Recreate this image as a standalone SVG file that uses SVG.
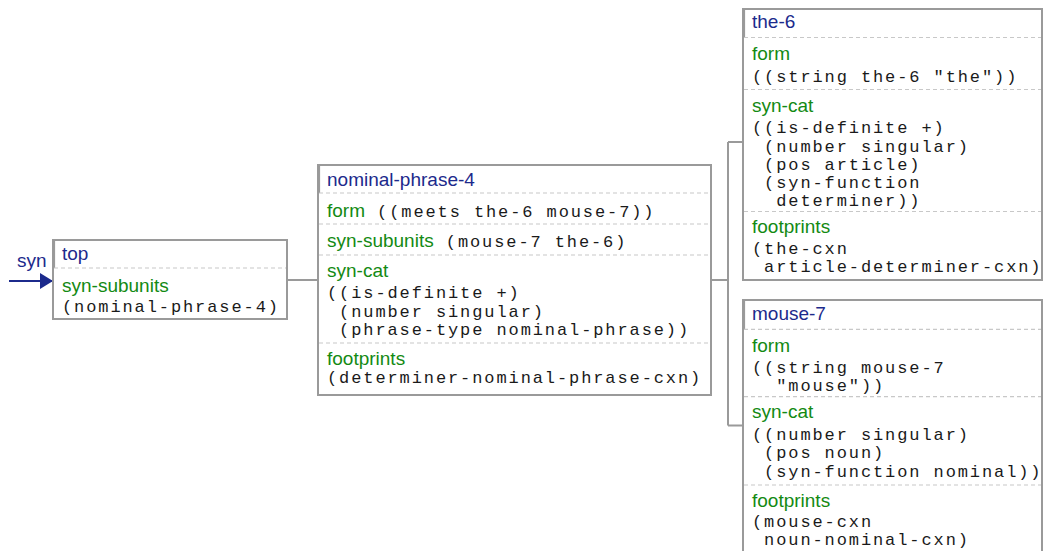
<svg xmlns="http://www.w3.org/2000/svg" width="1043" height="551" viewBox="0 0 1043 551">
<style>
.box{fill:#fff;stroke:#9a9a9a;stroke-width:2}
.hd{stroke:#9a9a9a;stroke-width:1.2}
.dash{stroke:#c8c8c8;stroke-width:1.2;stroke-dasharray:4 3}
.t{font-family:"Liberation Sans",Arial,sans-serif;font-size:19px;fill:#1c2a8c}
.l{font-family:"Liberation Sans",Arial,sans-serif;font-size:19px;fill:#138a13}
.m{font-family:"Liberation Mono","Courier New",monospace;font-size:17px;letter-spacing:1.9px;fill:#1a1a1a;white-space:pre}
.c{fill:none;stroke:#9a9a9a;stroke-width:2}
</style>
<defs>
<marker id="ah" markerWidth="14" markerHeight="16" refX="13" refY="8" orient="auto" markerUnits="userSpaceOnUse">
<path d="M0,0 L13,8 L0,16 Z" fill="#1c2a8c"/>
</marker>
</defs>
<g id="connectors">
<text class="t" x="17" y="267">syn</text>
<line x1="9" y1="281" x2="53" y2="281" stroke="#1c2a8c" stroke-width="2" marker-end="url(#ah)"/>
<path class="c" d="M287,280 H318"/>
<path class="c" d="M711,280 H728 M728,142 V425.5 M728,142 H743 M728,425.5 H743"/>
</g>
<g id="top">
<rect class="box" x="53" y="240" width="234" height="79"/>
<line class="hd" x1="54.5" y1="240" x2="54.5" y2="268"/>
<line class="dash" x1="54" y1="268" x2="286" y2="268"/>
<text class="t" x="62" y="260">top</text>
<text class="l" x="62" y="292">syn-subunits</text>
<text class="m" x="62" y="312">(nominal-phrase-4)</text>
</g>
<g id="nominal-phrase-4">
<rect class="box" x="318" y="165" width="393" height="230"/>
<line class="hd" x1="319.5" y1="165" x2="319.5" y2="193"/>
<line class="dash" x1="319" y1="193" x2="710" y2="193"/>
<line class="dash" x1="319" y1="224" x2="710" y2="224"/>
<line class="dash" x1="319" y1="255" x2="710" y2="255"/>
<line class="dash" x1="319" y1="343" x2="710" y2="343"/>
<text class="t" x="327" y="186">nominal-phrase-4</text>
<text x="327" y="217"><tspan class="l">form</tspan><tspan class="m"> ((meets the-6 mouse-7))</tspan></text>
<text x="327" y="247"><tspan class="l">syn-subunits</tspan><tspan class="m"> (mouse-7 the-6)</tspan></text>
<text class="l" x="327" y="277">syn-cat</text>
<text class="m" x="327" y="298">((is-definite +)</text>
<text class="m" x="327" y="317"> (number singular)</text>
<text class="m" x="327" y="335"> (phrase-type nominal-phrase))</text>
<text class="l" x="327" y="365">footprints</text>
<text class="m" x="327" y="383">(determiner-nominal-phrase-cxn)</text>
</g>
<g id="the-6">
<rect class="box" x="743" y="9" width="299" height="271"/>
<line class="hd" x1="744.5" y1="9" x2="744.5" y2="37.5"/>
<line class="dash" x1="744" y1="37.5" x2="1041" y2="37.5"/>
<line class="dash" x1="744" y1="89.5" x2="1041" y2="89.5"/>
<line class="dash" x1="744" y1="211.5" x2="1041" y2="211.5"/>
<text class="t" x="752" y="28">the-6</text>
<text class="l" x="752" y="60">form</text>
<text class="m" x="752" y="81.7">((string the-6 "the"))</text>
<text class="l" x="752" y="111.7">syn-cat</text>
<text class="m" x="752" y="133.3">((is-definite +)</text>
<text class="m" x="752" y="151.7"> (number singular)</text>
<text class="m" x="752" y="170"> (pos article)</text>
<text class="m" x="752" y="188.3"> (syn-function</text>
<text class="m" x="752" y="206">  determiner))</text>
<text class="l" x="752" y="233.3">footprints</text>
<text class="m" x="752" y="254.3">(the-cxn</text>
<text class="m" x="752" y="271.7"> article-determiner-cxn)</text>
</g>
<g id="mouse-7">
<rect class="box" x="743" y="300" width="299" height="258"/>
<line class="hd" x1="744.5" y1="300" x2="744.5" y2="329.3"/>
<line class="dash" x1="744" y1="329.3" x2="1041" y2="329.3"/>
<line class="dash" x1="744" y1="396.7" x2="1041" y2="396.7"/>
<line class="dash" x1="744" y1="485" x2="1041" y2="485"/>
<text class="t" x="752" y="320">mouse-7</text>
<text class="l" x="752" y="351.7">form</text>
<text class="m" x="752" y="372.7">((string mouse-7</text>
<text class="m" x="752" y="390.7">  "mouse"))</text>
<text class="l" x="752" y="418.3">syn-cat</text>
<text class="m" x="752" y="440">((number singular)</text>
<text class="m" x="752" y="458.3"> (pos noun)</text>
<text class="m" x="752" y="476.7"> (syn-function nominal))</text>
<text class="l" x="752" y="506.7">footprints</text>
<text class="m" x="752" y="527.3">(mouse-cxn</text>
<text class="m" x="752" y="545"> noun-nominal-cxn)</text>
</g>
</svg>
